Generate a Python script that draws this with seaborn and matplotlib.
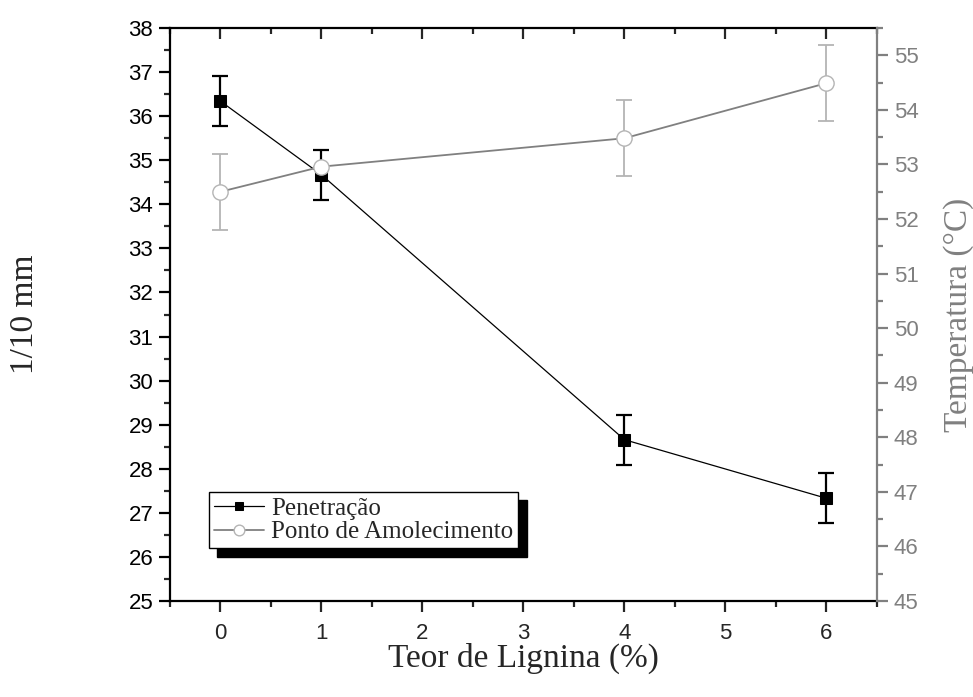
import matplotlib
matplotlib.use("Agg")
import matplotlib.pyplot as plt
import seaborn as sns
import pandas as pd
from matplotlib.ticker import MultipleLocator

# Data
lignina = [0, 1, 4, 6]
penetracao = [36.34, 34.67, 28.66, 27.33]
penetracao_err = [0.57, 0.57, 0.57, 0.57]
amolecimento = [52.5, 52.96, 53.48, 54.49]
amolecimento_err = [0.7, 0.0, 0.7, 0.7]

sns.set_theme(style="white")
plt.rcParams['font.family'] = ['Liberation Sans', 'DejaVu Sans']

df = pd.DataFrame({"x": lignina, "pen": penetracao, "amo": amolecimento})

fig = plt.figure(figsize=(9.73, 6.97), dpi=100)
ax = fig.add_axes([0.1747, 0.1377, 0.7266, 0.8221])
ax2 = ax.twinx()

gray = "#808080"
lgray = "#b4b4b4"

# Penetração
ax.errorbar(lignina, penetracao, yerr=penetracao_err, fmt="none", ecolor="black",
            elinewidth=1.6, capsize=5.5, capthick=1.6, zorder=3)
sns.lineplot(data=df, x="x", y="pen", ax=ax, color="black", linewidth=0.9,
             marker="s", markersize=9, markerfacecolor="black", markeredgecolor="black",
             label="Penetração", legend=False, zorder=4)

# Ponto de Amolecimento
ax2.errorbar(lignina, amolecimento, yerr=amolecimento_err, fmt="none", ecolor=lgray,
             elinewidth=1.3, capsize=6, capthick=1.3, zorder=3)
sns.lineplot(data=df, x="x", y="amo", ax=ax2, color=gray, linewidth=1.3,
             marker="o", markersize=11, markerfacecolor="white", markeredgecolor=lgray,
             markeredgewidth=1.0, label="Ponto de Amolecimento", legend=False, zorder=4)

ax.set_xlim(-0.5, 6.5)
ax.set_ylim(25, 38)
ax2.set_ylim(45, 55.5)

ax.xaxis.set_major_locator(MultipleLocator(1))
ax.xaxis.set_minor_locator(MultipleLocator(0.5))
ax.yaxis.set_major_locator(MultipleLocator(1))
ax.yaxis.set_minor_locator(MultipleLocator(0.5))
ax2.yaxis.set_major_locator(MultipleLocator(1))
ax2.yaxis.set_minor_locator(MultipleLocator(0.5))

for s in ["left", "bottom", "top"]:
    ax.spines[s].set_color("black")
    ax.spines[s].set_linewidth(1.6)
ax.spines["right"].set_visible(False)
for s in ["left", "bottom", "top"]:
    ax2.spines[s].set_visible(False)
ax2.spines["right"].set_color(gray)
ax2.spines["right"].set_linewidth(1.6)

ax.tick_params(axis="x", which="major", direction="out", length=8, width=1.6,
               bottom=True, top=True, labelsize=16, pad=8)
ax.tick_params(axis="x", which="minor", direction="out", length=4, width=1.6,
               bottom=True, top=True)
# top ticks inward
for t in ax.xaxis.get_major_ticks() + ax.xaxis.get_minor_ticks():
    t.tick2line.set_marker(3)  # TICKDOWN
ax.tick_params(axis="y", which="major", direction="out", length=8, width=1.6,
               left=True, right=False, labelsize=16, colors="black", pad=4)
ax.tick_params(axis="y", which="minor", direction="out", length=4, width=1.6,
               left=True, right=False)
ax2.tick_params(axis="y", which="major", direction="out", length=8, width=1.6,
                right=True, labelsize=16, colors=gray, labelcolor=gray, pad=4)
ax2.tick_params(axis="y", which="minor", direction="out", length=4, width=1.6,
                right=True, colors=gray)

ax.set_xlabel("Teor de Lignina (%)", family=["Liberation Serif"], fontsize=24, labelpad=-1)
ax.set_ylabel("1/10 mm", family=["Liberation Serif"], fontsize=24, labelpad=64)
ax2.set_ylabel("Temperatura (°C)", family=["Liberation Serif"], fontsize=24, color=gray,
               labelpad=18)

h1, l1 = ax.get_legend_handles_labels()
h2, l2 = ax2.get_legend_handles_labels()
leg = ax2.legend(h1 + h2, l1 + l2, loc="upper left", bbox_to_anchor=(0.055, 0.19),
                 borderaxespad=0, frameon=True, fancybox=False,
                 shadow={"ox": 6, "oy": -6, "color": "black", "alpha": 1.0},
                 prop={"family": "Liberation Serif", "size": 18},
                 handlelength=2.0, handletextpad=0.3, borderpad=0.2, labelspacing=0.05,
                 numpoints=1, markerscale=0.7)
leg.get_frame().set_edgecolor("black")
leg.get_frame().set_linewidth(1.0)
leg.get_frame().set_alpha(1.0)

fig.savefig("out.png", dpi=100)
